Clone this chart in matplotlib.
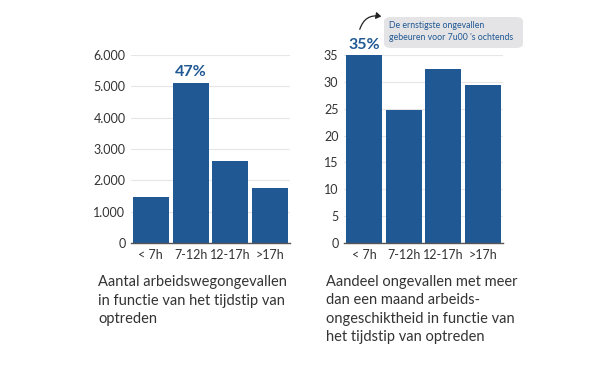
import matplotlib
matplotlib.use("Agg")
import matplotlib.pyplot as plt
from matplotlib.patches import FancyBboxPatch

categories = ["< 7h", "7-12h", "12-17h", ">17h"]
counts = [1480, 5120, 2620, 1770]
shares = [35, 24.8, 32.4, 29.4]
left_ticks = [0, 1000, 2000, 3000, 4000, 5000, 6000]
left_ticklabels = ["0", "1.000", "2.000", "3.000", "4.000", "5.000", "6.000"]
right_ticks = [0, 5, 10, 15, 20, 25, 30, 35]

BLUE = "#205893"
TXT = "#333333"
plt.rcParams['font.family'] = ['Lato', 'DejaVu Sans']

fig = plt.figure(figsize=(6, 3.7), dpi=100)
W, H = 600, 370

def ax_at(x0, x1, y0, y1):
    return fig.add_axes([x0 / W, 1 - y1 / H, (x1 - x0) / W, (y1 - y0) / H])

axL = ax_at(131, 290, 55, 243)
axR = ax_at(344, 503, 55, 243)

for ax in (axL, axR):
    for s in ("top", "right", "left"):
        ax.spines[s].set_visible(False)
    ax.spines["bottom"].set_color("#555555")
    ax.spines["bottom"].set_linewidth(1.0)
    ax.tick_params(axis="both", length=0, labelsize=9, colors=TXT, pad=4)
    ax.set_axisbelow(True)
    ax.yaxis.grid(True, color="#e6e6e6", linewidth=0.8)
    ax.set_xlim(-0.5, 3.5)

x = range(len(categories))
axL.bar(x, counts, width=0.9, color=BLUE)
axL.set_ylim(0, 6000)
axL.set_yticks(left_ticks)
axL.set_yticklabels(left_ticklabels)
axL.set_xticks(list(x))
axL.set_xticklabels(categories)
axL.text(1, counts[1] + 120, "47%", ha="center", va="bottom", color=BLUE,
         fontsize=11.5, fontweight="bold")

axR.bar(x, shares, width=0.9, color=BLUE)
axR.set_ylim(0, 35)
axR.set_yticks(right_ticks)
axR.set_xticks(list(x))
axR.set_xticklabels(categories)
axR.text(0, shares[0] + 0.6, "35%", ha="center", va="bottom", color=BLUE,
         fontsize=11.5, fontweight="bold", clip_on=False)

# annotation box
box = FancyBboxPatch((384 / W, 1 - 48 / H), (523 - 384) / W, (48 - 17) / H,
                     boxstyle="round,pad=0,rounding_size=0.012",
                     transform=fig.transFigure, facecolor="#e4e4e6",
                     edgecolor="none")
fig.patches.append(box)
fig.text(389 / W, 1 - 25 / H, "De ernstigste ongevallen", color=BLUE,
         fontsize=6.3, va="center", ha="left")
fig.text(389 / W, 1 - 38 / H, "gebeuren voor 7u00 's ochtends", color=BLUE,
         fontsize=6.3, va="center", ha="left")
fig.add_artist(matplotlib.patches.FancyArrowPatch(
    (359 / W, 1 - 32 / H), (384 / W, 1 - 17 / H), transform=fig.transFigure,
    connectionstyle="arc3,rad=-0.5", arrowstyle="-|>,head_length=3,head_width=2",
    color="#222222", linewidth=0.9))

cap_kw = dict(fontsize=10.5, color=TXT, va="center", ha="left")
left_cap = ["Aantal arbeidswegongevallen", "in functie van het tijdstip van", "optreden"]
right_cap = ["Aandeel ongevallen met meer", "dan een maand arbeids-",
             "ongeschiktheid in functie van", "het tijdstip van optreden"]
for i, line in enumerate(left_cap):
    fig.text(98 / W, 1 - (282 + i * 18.5) / H, line, **cap_kw)
for i, line in enumerate(right_cap):
    fig.text(326 / W, 1 - (282 + i * 18.5) / H, line, **cap_kw)

fig.savefig("out.png", dpi=100, facecolor="white")
